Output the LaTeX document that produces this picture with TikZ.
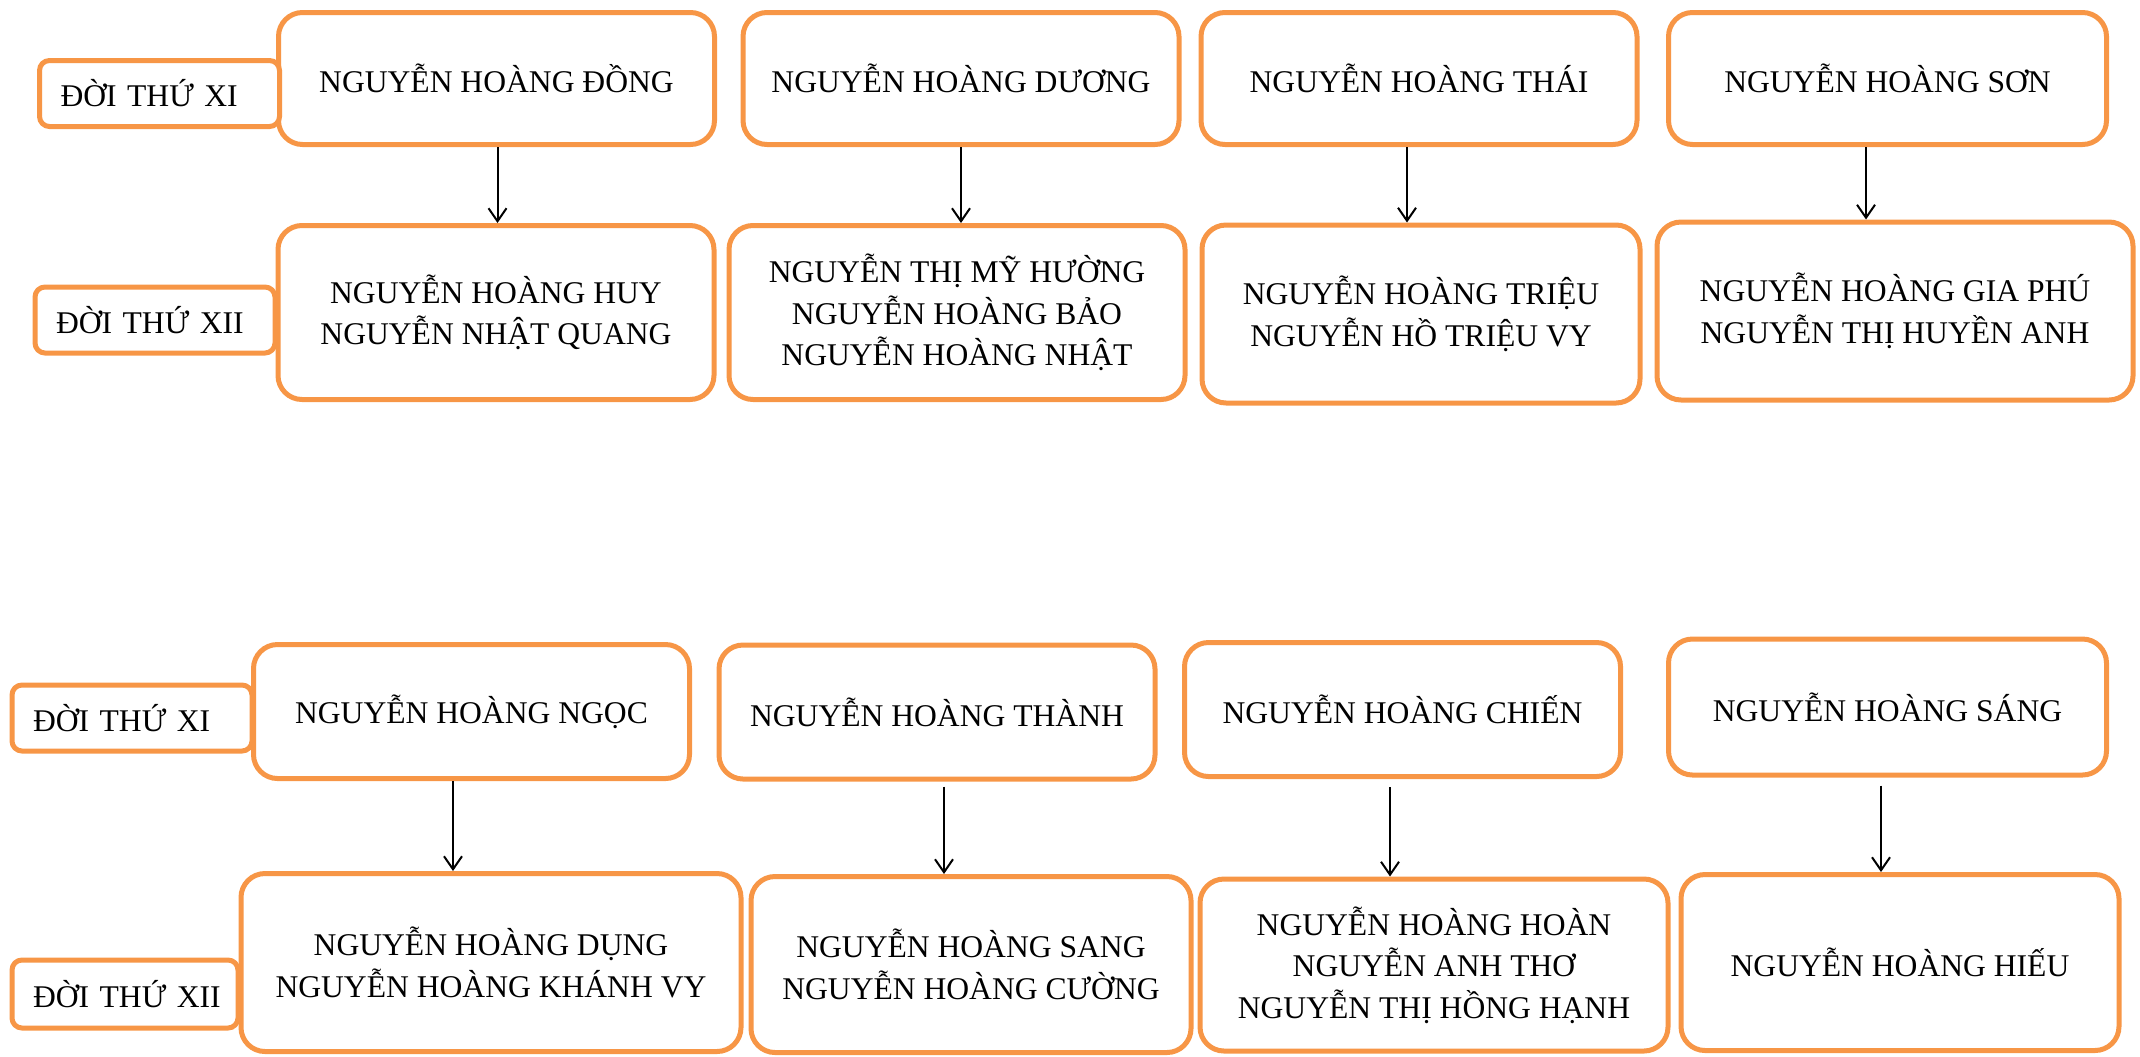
\documentclass[tikz,border=0pt]{standalone}
\usepackage{fontspec}
\setmainfont{Liberation Serif}
\usetikzlibrary{arrows.meta}
\definecolor{famorange}{RGB}{247,150,70}

\begin{document}
\begin{tikzpicture}[
    x=0.5pt, y=-0.5pt,
    >={Straight Barb[length=6.5pt, width=9pt]},
    font=\fontsize{15.8}{20.75}\selectfont,
    person/.style={draw=famorange, fill=white, line width=2.5pt,
        rounded corners=12pt, align=center, inner sep=0pt},
    gen/.style={draw=famorange, fill=white, line width=2.5pt,
        rounded corners=5pt, inner xsep=10.5pt, inner ysep=0pt, align=left},
    link/.style={->, line width=1pt},
]
    \useasboundingbox (0,0) rectangle (2140,1056);

    % doi thu XI / XII, nhanh tren
    \node[person, minimum width=218pt, minimum height=66pt] (A1) at (496.5,78.5) {NGUYỄN HOÀNG ĐỒNG};
    \node[person, minimum width=218pt, minimum height=66pt] (A2) at (961,78.5)   {NGUYỄN HOÀNG DƯƠNG};
    \node[person, minimum width=218pt, minimum height=66pt] (A3) at (1419,78.5)  {NGUYỄN HOÀNG THÁI};
    \node[person, minimum width=219pt, minimum height=66pt] (A4) at (1887.5,78.5) {NGUYỄN HOÀNG SƠN};

    \node[person, minimum width=218pt, minimum height=87pt] (B1) at (496,312.5)  {NGUYỄN HOÀNG HUY\\NGUYỄN NHẬT QUANG};
    \node[person, minimum width=228pt, minimum height=87pt] (B2) at (957,312.5)  {NGUYỄN THỊ MỸ HƯỜNG\\NGUYỄN HOÀNG BẢO\\NGUYỄN HOÀNG NHẬT};
    \node[person, minimum width=219pt, minimum height=89pt] (B3) at (1421,314)   {NGUYỄN HOÀNG TRIỆU\\NGUYỄN HỒ TRIỆU VY};
    \node[person, minimum width=238pt, minimum height=89pt] (B4) at (1895,311)   {NGUYỄN HOÀNG GIA PHÚ\\NGUYỄN THỊ HUYỀN ANH};

    \node[gen, text width=99pt, minimum height=33pt] (L1) at (159.5,93.5) {ĐỜI~THỨ~XI};
    \node[gen, text width=99pt, minimum height=33pt] (L2) at (155,320)    {ĐỜI~THỨ~XII};

    % doi thu XI / XII, nhanh duoi
    \node[person, minimum width=218pt, minimum height=67pt] (C1) at (471.5,711.5) {NGUYỄN HOÀNG NGỌC};
    \node[person, minimum width=218pt, minimum height=67pt] (C2) at (937,712)     {NGUYỄN HOÀNG THÀNH};
    \node[person, minimum width=218pt, minimum height=67pt] (C3) at (1402.5,709.5) {NGUYỄN HOÀNG CHIẾN};
    \node[person, minimum width=219pt, minimum height=68pt] (C4) at (1887.5,707)  {NGUYỄN HOÀNG SÁNG};

    \node[gen, text width=92pt, minimum height=34pt] (L4) at (125,994) {ĐỜI~THỨ~XII};

    \node[person, minimum width=250pt, minimum height=89pt] (D1) at (491,962.5)   {NGUYỄN HOÀNG DỤNG\\NGUYỄN HOÀNG KHÁNH VY};
    \node[person, minimum width=220pt, minimum height=88pt] (D2) at (971,964.5)   {NGUYỄN HOÀNG SANG\\NGUYỄN HOÀNG CƯỜNG};
    \node[person, minimum width=234pt, minimum height=86pt] (D3) at (1434,965)    {NGUYỄN HOÀNG HOÀN\\NGUYỄN ANH THƠ\\NGUYỄN THỊ HỒNG HẠNH};
    \node[person, minimum width=219pt, minimum height=88pt] (D4) at (1900,962.5)  {NGUYỄN HOÀNG HIẾU};

    \node[gen, text width=99pt, minimum height=33pt] (L3) at (132,718) {ĐỜI~THỨ~XI};

    \path[link]
        ([xshift=0.5pt]A1.south)    edge ([xshift=0.5pt]A1.south |- B1.north)
        (A2.south)                   edge (A2.south |- B2.north)
        ([xshift=-6pt]A3.south)      edge ([xshift=-6pt]A3.south |- B3.north)
        ([xshift=-10.75pt]A4.south)  edge ([xshift=-10.75pt]A4.south |- B4.north)
        ([xshift=-9.25pt]C1.south)   edge ([xshift=-9.25pt]C1.south |- D1.north)
        ([xshift=3.5pt]C2.south)     edge[shorten <=2.5pt] ([xshift=3.5pt]C2.south |- D2.north)
        ([xshift=-6.25pt]C3.south)   edge[shorten <=4pt] ([xshift=-6.25pt]C3.south |- D3.north)
        ([xshift=-3.25pt]C4.south)   edge[shorten <=4pt] ([xshift=-3.25pt]C4.south |- D4.north)
    ;
\end{tikzpicture}
\end{document}
